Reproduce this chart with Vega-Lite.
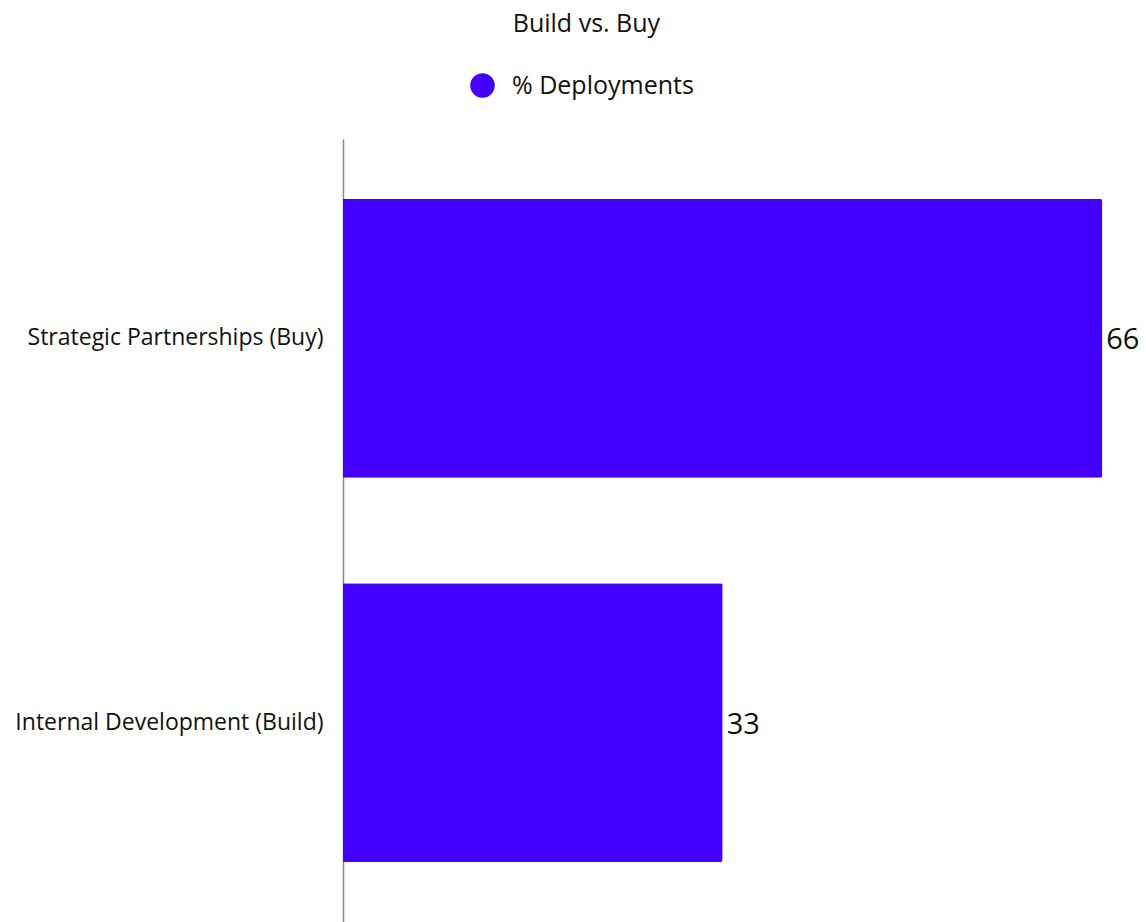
{
  "$schema": "https://vega.github.io/schema/vega-lite/v6.json",
  "autosize": "none",
  "padding": {"left": 343, "top": 139, "right": 0, "bottom": 0},
  "width": 803,
  "height": 783,
  "background": "white",
  "config": {
    "font": "Open Sans",
    "view": {"stroke": null}
  },
  "title": {
    "text": "Build vs. Buy",
    "fontSize": 25,
    "fontWeight": "normal",
    "color": "#111111",
    "anchor": "middle",
    "frame": "bounds",
    "dx": 6,
    "offset": 36
  },
  "data": {
    "values": [
      {"category": "Strategic Partnerships (Buy)", "value": 66, "series": "% Deployments"},
      {"category": "Internal Development (Build)", "value": 33, "series": "% Deployments"}
    ]
  },
  "encoding": {
    "y": {
      "field": "category",
      "type": "nominal",
      "sort": null,
      "scale": {"paddingInner": 0.274, "paddingOuter": 0.156},
      "axis": {
        "title": null,
        "ticks": false,
        "labelFontSize": 23,
        "labelLimit": 0,
        "labelColor": "#111111",
        "labelPadding": 20,
        "domainColor": "#888888",
        "domainWidth": 1.5
      }
    },
    "x": {
      "field": "value",
      "type": "quantitative",
      "scale": {"domain": [0, 69.8], "nice": false},
      "axis": null
    }
  },
  "layer": [
    {
      "mark": {"type": "bar", "cornerRadiusEnd": 2},
      "encoding": {
        "color": {
          "field": "series",
          "type": "nominal",
          "scale": {"range": ["#4400ff"]},
          "legend": {
            "title": null,
            "orient": "none",
            "legendX": 127,
            "legendY": -66,
            "symbolType": "circle",
            "symbolSize": 600,
            "symbolStrokeWidth": 0,
            "labelFontSize": 25,
            "labelLimit": 0,
            "labelColor": "#111111",
            "labelOffset": 17
          }
        }
      }
    },
    {
      "mark": {"type": "text", "align": "left", "baseline": "middle", "dx": 4, "dy": 2, "fontSize": 29, "color": "#111111"},
      "encoding": {
        "text": {"field": "value", "type": "quantitative"}
      }
    }
  ]
}
